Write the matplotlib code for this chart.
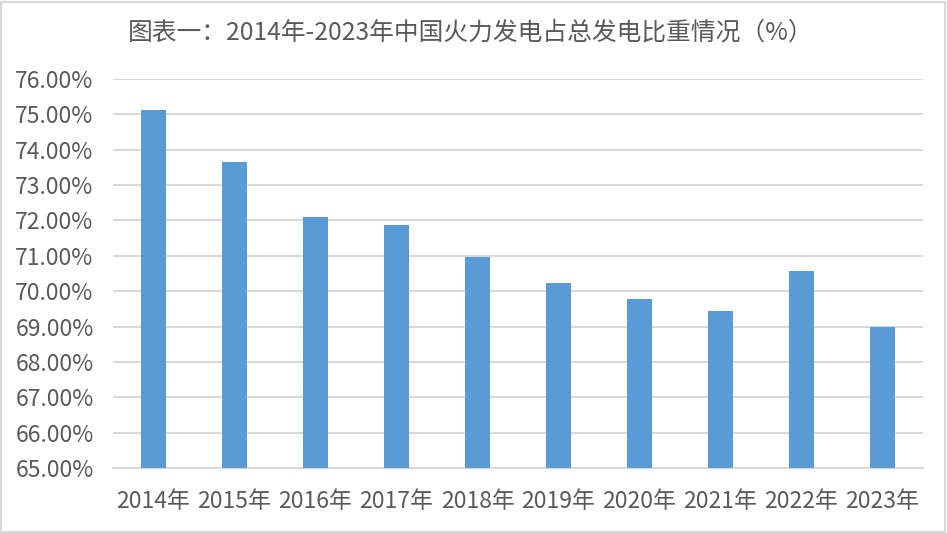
import matplotlib.pyplot as plt
from matplotlib.ticker import FuncFormatter
from matplotlib.patches import Rectangle

plt.rcParams['font.family'] = ['Noto Sans CJK SC', 'DejaVu Sans']

years = ['2014年', '2015年', '2016年', '2017年', '2018年',
         '2019年', '2020年', '2021年', '2022年', '2023年']
share = [75.13, 73.66, 72.09, 71.87, 70.96, 70.22, 69.79, 69.44, 70.56, 68.99]

title = '图表一：2014年-2023年中国火力发电占总发电比重情况（%）'

text_color = '#595959'
grid_color = '#d9d9d9'
bar_color = '#5b9bd5'

fig = plt.figure(figsize=(9.47, 5.33), dpi=100)
ax = fig.add_axes([113 / 947, 1 - 468 / 533, 810 / 947, 389 / 533])

x = range(len(years))
ax.bar(x, share, width=0.32, color=bar_color, zorder=3)

ax.set_xlim(-0.5, len(years) - 0.5)
ax.set_ylim(65, 76)
ax.set_yticks(range(65, 77))
ax.yaxis.set_major_formatter(FuncFormatter(lambda v, p: f'{v:.2f}%'))
ax.set_xticks(list(x))
ax.set_xticklabels(years)

ax.grid(axis='y', color=grid_color, linewidth=1.5, zorder=0)
ax.tick_params(axis='both', length=0, labelsize=16.5, colors=text_color)
ax.tick_params(axis='x', pad=16)
ax.tick_params(axis='y', pad=14)
for side in ['top', 'right', 'left']:
    ax.spines[side].set_visible(False)
ax.spines['bottom'].set_color(grid_color)
ax.spines['bottom'].set_linewidth(1.5)

fig.text(471 / 947, 1 - 33 / 533, title, ha='center', va='center',
         fontsize=17.8, color=text_color)

# light frame around the chart area
fig.patches.append(Rectangle((0.001, 0.002), 0.997, 0.995, transform=fig.transFigure,
                             fill=False, edgecolor='#d9d9d9', linewidth=1.5))

fig.savefig('out.png', dpi=100)
